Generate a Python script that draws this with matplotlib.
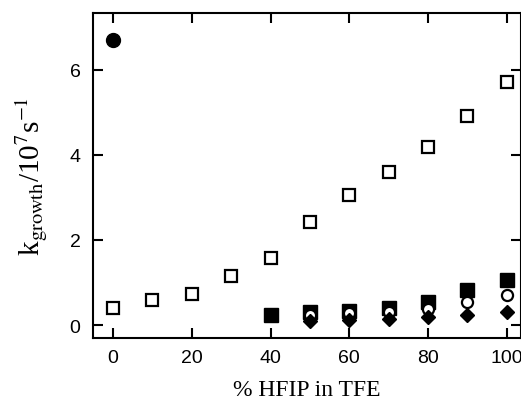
import numpy as np
import matplotlib
matplotlib.use("Agg")
import matplotlib.pyplot as plt

plt.rcParams['font.family'] = ['Liberation Sans', 'DejaVu Sans']
plt.rcParams['mathtext.fontset'] = 'stix'

# open squares
x_open_sq = [0, 10, 20, 30, 40, 50, 60, 70, 80, 90, 100]
y_open_sq = [0.39, 0.59, 0.74, 1.14, 1.57, 2.41, 3.06, 3.59, 4.19, 4.92, 5.70]

# filled circle
x_fill_circ = [0]
y_fill_circ = [6.70]

# filled squares
x_fill_sq = [40, 50, 60, 70, 80, 90, 100]
y_fill_sq = [0.24, 0.30, 0.34, 0.39, 0.53, 0.83, 1.06]

# open circles
x_open_circ = [50, 60, 70, 80, 90, 100]
y_open_circ = [0.24, 0.28, 0.30, 0.37, 0.53, 0.71]

# filled diamonds
x_diam = [50, 60, 70, 80, 90, 100]
y_diam = [0.10, 0.12, 0.14, 0.18, 0.24, 0.30]

fig = plt.figure(figsize=(5.21, 4.02), dpi=100)
ax = fig.add_axes([93/521, 63/402, 428/521, 325/402])

ax.plot(x_open_sq, y_open_sq, 's', ms=8.8, mfc='white', mec='black', mew=1.6, ls='none')
ax.plot(x_fill_circ, y_fill_circ, 'o', ms=10, color='black', ls='none')
ax.plot(x_fill_sq, y_fill_sq, 's', ms=10, color='black', ls='none')
ax.plot(x_open_circ, y_open_circ, 'o', ms=8, mfc='white', mec='black', mew=1.6, ls='none')
ax.plot(x_diam, y_diam, 'D', ms=7.5, color='black', ls='none')

ax.set_xlim(-5.1, 103.6)
ax.set_ylim(-0.305, 7.33)
ax.set_xticks([0, 20, 40, 60, 80, 100])
ax.set_yticks([0, 2, 4, 6])

for s in ax.spines.values():
    s.set_linewidth(1.5)
ax.tick_params(direction='in', top=True, right=True, length=7, width=1.5,
               labelsize=14)
ax.tick_params(axis='x', pad=8)
ax.tick_params(axis='y', pad=9)

ax.set_xlabel('% HFIP in TFE', family='Liberation Serif', fontsize=17, labelpad=9)
ax.set_ylabel(r'k$_{\mathrm{growth}}$/10$^{7}$s$^{-1}$', family='Liberation Serif',
              fontsize=21, labelpad=14)

fig.savefig('out.png', dpi=100)
